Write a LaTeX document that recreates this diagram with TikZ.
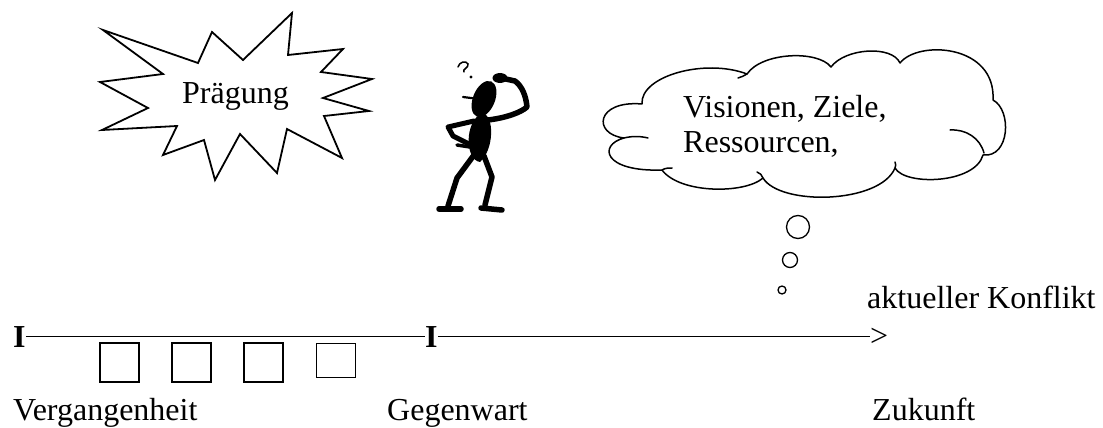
\documentclass[tikz,border=0pt]{standalone}
\usepackage{fontspec}
\setmainfont{Liberation Serif}
\begin{document}
\begin{tikzpicture}[x=1pt,y=-1pt,
  lbl/.style={anchor=base west,inner sep=0pt,font=\fontsize{32pt}{35pt}\selectfont},
  tick/.style={lbl,font=\fontsize{32pt}{35pt}\selectfont\bfseries},
  sq/.style={draw,line width=1.5pt,minimum width=39pt,minimum height=39pt,inner sep=0pt},
  bubble/.style={draw,circle,line width=1.3pt,inner sep=0pt},
  cloudline/.style={line width=1.5pt,line join=round,line cap=round},
  limb/.style={line width=5.5pt,line cap=round,line join=round}]
\useasboundingbox (0,0) rectangle (1103,428);

% --- starburst with its label
\draw[line width=1.8pt,line join=miter]
  (103,30) -- (198,63) -- (212,32) -- (243,60) -- (292,13) -- (288,55)
  -- (343,49) -- (321,72) -- (372,79) -- (323,98) -- (369,111) -- (324,116)
  -- (342,158) -- (287,129) -- (277,173) -- (240,134) -- (215,180)
  -- (204,140) -- (163,155) -- (177,126) -- (102,130) -- (148,108)
  -- (100,82) -- (163,74) -- cycle;
\node[lbl] (praeg) at (182,103) {Prägung};

% --- puzzled stick figure
\fill[rotate around={-22:(484,99)}] (484,99) ellipse [x radius=11pt, y radius=19pt];
\draw[line width=2.2pt,line cap=round] (463,97) -- (479,99);
\fill (482,113) .. controls (495,115) and (494,150) .. (480,162)
  .. controls (465,160) and (464,122) .. (482,113) -- cycle;
\draw[limb] (488,120) .. controls (505,118) and (520,113) .. (527,107)
  .. controls (526,96) and (522,86) .. (515,81) -- (501,78);
\fill (500,78) ellipse [x radius=7.5pt, y radius=5pt];
\draw[limb,line width=5pt] (474,121) -- (448,127) -- (453,136) -- (471,145);
\draw[limb,line width=3.5pt] (457,145) -- (470,147);
\draw[limb] (474,155) -- (457,178) -- (448,206);
\draw[limb] (439,209) -- (461,209);
\draw[limb] (484,156) -- (492,177) -- (485,205);
\draw[limb] (481,208) -- (502,210);
\draw[line width=1.5pt,line cap=round]
  (458,67) .. controls (459,62) and (466,60) .. (468,64)
  .. controls (469,68) and (462,69) .. (464,72);
\fill (471,77) circle [radius=1.7pt];

% --- thought cloud
\draw[cloudline]
  (642,104) .. controls (640,76) and (705,58) .. (747,74)
  .. controls (762,52) and (818,50) .. (831,67)
  .. controls (845,48) and (892,45) .. (900,63)
  .. controls (918,40) and (996,44) .. (993,100)
  .. controls (1012,110) and (1010,158) .. (983,155)
  .. controls (975,184) and (905,186) .. (895,168)
  .. controls (880,204) and (780,206) .. (763,178)
  .. controls (745,194) and (680,194) .. (662,170)
  .. controls (603,172) and (598,145) .. (624,138)
  .. controls (592,134) and (596,100) .. (642,104);
% inner tails of the cloud lobes
\draw[cloudline] (624,138) .. controls (632,136) and (640,136) .. (648,138);
\draw[cloudline] (662,170) .. controls (665,168) and (669,168) .. (672,168);
\draw[cloudline] (763,178) .. controls (762,175) and (760,173) .. (757,172);
\draw[cloudline] (895,168) .. controls (896,166) and (896,164) .. (895,162);
\draw[cloudline] (747,74) .. controls (744,76) and (741,77) .. (738,78);
\draw[cloudline] (950,130) .. controls (966,129) and (980,138) .. (984,153);
\node[lbl] (vis1) at (683,117) {Visionen, Ziele,};
\node[lbl] (vis2) at (683,152) {Ressourcen,};

\node[bubble,minimum size=23pt] (c1) at (798,227) {};
\node[bubble,minimum size=15pt] (c2) at (790,260) {};
\node[bubble,minimum size=8pt] (c3) at (782,290) {};

% --- timeline
\node[lbl] (konf) at (867,308) {aktueller Konflikt};
\node[tick] (i1) at (13,347) {I};
\node[tick] (i2) at (425,347) {I};
\node[lbl] (gt) at (870,346) {>};
\draw[line width=1.5pt] (i1.east) -- (i2.west);
\draw[line width=1.5pt] (i2.east) -- (i2.east -| gt.west);

\node[sq] (s1) at (119.5,362.5) {};
\node[sq] (s2) at (191.5,362.5) {};
\node[sq] (s3) at (263.5,362.5) {};
\node[sq,minimum height=34pt] (s4) at (336,360.5) {};

\node[lbl] (verg) at (13,420) {Vergangenheit};
\node[lbl] (gegen) at (387,420) {Gegenwart};
\node[lbl] (zuk) at (872,420) {Zukunft};
\end{tikzpicture}
\end{document}
